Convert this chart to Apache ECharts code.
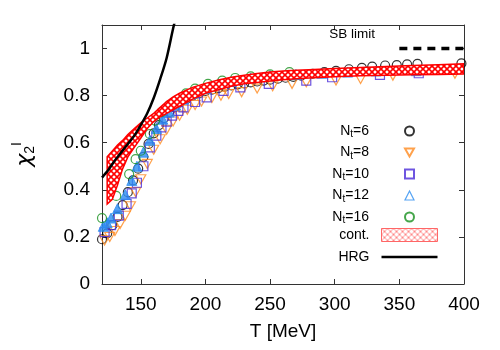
<!DOCTYPE html>
<html>
<head>
<meta charset="utf-8">
<script src="https://cdn.jsdelivr.net/npm/echarts@6/dist/echarts.min.js"></script>
<style>
  html, body { margin: 0; padding: 0; background: #fff; }
  #chart { width: 500px; height: 350px; }
</style>
</head>
<body>
<div id="chart"></div>
<script>
const xTicks = [150, 200, 250, 300, 350, 400];
const yTicks = [0, 0.2, 0.4, 0.6, 0.8, 1];

const t6 = [120,124,128,132,136,140,144,148,152,156,160,164,168,172,176,180,185,190,195,200,205,210,215,220,225,230,235,240,245,250,256,262,268,274,283,292,301,311,321,329,339,348,356,364,398];
const chi6 = [0.19,0.215,0.25,0.285,0.335,0.39,0.44,0.49,0.54,0.595,0.64,0.675,0.705,0.73,0.75,0.77,0.785,0.8,0.81,0.82,0.825,0.832,0.838,0.843,0.848,0.852,0.856,0.86,0.864,0.868,0.872,0.876,0.88,0.885,0.893,0.9,0.905,0.912,0.918,0.923,0.928,0.93,0.933,0.935,0.937];

const t8 = [122,126,130,134,138,142,146,150,155,160,165,170,175,180,186,192,197,205,212,218,228,240,252,267,278,301,320,345,393];
const chi8 = [0.185,0.2,0.225,0.255,0.29,0.33,0.39,0.445,0.51,0.57,0.615,0.655,0.69,0.715,0.74,0.76,0.775,0.79,0.8,0.807,0.815,0.83,0.84,0.85,0.857,0.864,0.871,0.885,0.893];

const t10 = [122,127,133,139,143,147,152,157,162,166,170,174,179,183,192,201,214,227,249,278,298,335,365];
const chi10 = [0.22,0.25,0.29,0.34,0.385,0.43,0.5,0.58,0.63,0.665,0.69,0.715,0.735,0.75,0.773,0.793,0.82,0.835,0.85,0.864,0.878,0.888,0.895];

const t12 = [121,124,127,132,138,143,147,152,157,162,167,172,177,183,190,200,210,220,235,250,270,290,310,332,363];
const chi12 = [0.245,0.26,0.28,0.32,0.38,0.44,0.5,0.56,0.61,0.66,0.7,0.73,0.76,0.785,0.81,0.83,0.85,0.86,0.875,0.885,0.89,0.895,0.9,0.905,0.906];

const t16 = [120,131,141,146,150,157,161,166,172,178,185,192,202,213,223,235,250,265];
const chi16 = [0.28,0.374,0.467,0.53,0.566,0.637,0.694,0.73,0.76,0.78,0.81,0.83,0.85,0.864,0.875,0.882,0.89,0.9];

// continuum band
const bandT = [124,128,132,136,140,145,150,155,160,165,170,175,180,190,200,210,220,230,240,250,260,270,280,300,320,340,360,380,400];
const bandLo = [0.34,0.36,0.42,0.49,0.54,0.58,0.62,0.66,0.69,0.71,0.725,0.74,0.755,0.785,0.81,0.825,0.84,0.85,0.856,0.862,0.867,0.872,0.875,0.88,0.884,0.887,0.889,0.89,0.892];
const bandHi = [0.54,0.565,0.59,0.61,0.635,0.66,0.685,0.705,0.725,0.75,0.775,0.795,0.81,0.835,0.852,0.866,0.878,0.887,0.894,0.9,0.905,0.908,0.91,0.915,0.92,0.924,0.928,0.931,0.935];

const hrgT = [120,125,130,135,140,145,150,155,160,165,170,175,177];
const hrgChi = [0.452,0.485,0.525,0.56,0.595,0.63,0.675,0.725,0.79,0.87,0.96,1.085,1.13];

const sbT = [350, 400];
const sbChi = [1, 1];

const zip = (a, b) => a.map((x, i) => [x, b[i]]);

function hatch(color, w) {
  const c = document.createElement('canvas');
  c.width = 6; c.height = 6;
  const g = c.getContext('2d');
  g.fillStyle = '#fff';
  g.fillRect(0, 0, 6, 6);
  g.strokeStyle = color;
  g.lineWidth = w;
  g.beginPath();
  g.moveTo(-1, -1); g.lineTo(7, 7);
  g.moveTo(7, -1); g.lineTo(-1, 7);
  g.stroke();
  return c;
}
const pattern = { image: hatch('#ff0000', 1.6), repeat: 'repeat' };
const legendPattern = { image: hatch('#ff6a6a', 0.8), repeat: 'repeat' };
const downTri = 'path://M0,0 L10,0 L5,9 Z';

function pts(name, t, v, symbol, color, opts) {
  return Object.assign({
    name: name,
    type: 'scatter',
    data: zip(t, v),
    symbol: symbol,
    symbolSize: 9,
    itemStyle: { color: 'transparent', borderColor: color, borderWidth: 1.2 },
    z: 3
  }, opts || {});
}

const chart = echarts.init(document.getElementById('chart'));

const axisLine = { lineStyle: { color: '#333', width: 1 } };
const font = 'Liberation Sans, Arial, sans-serif';

chart.setOption({
  animation: false,
  textStyle: { fontFamily: font },
  grid: { left: 102, right: 36, top: 25, bottom: 66 },
  xAxis: [{
    type: 'value', min: 120, max: 400,
    axisLine: Object.assign({ onZero: false }, axisLine),
    axisTick: { inside: true, length: 5, customValues: xTicks, lineStyle: { color: '#333' } },
    axisLabel: { customValues: xTicks, fontSize: 19, color: '#000', margin: 11 },
    splitLine: { show: false },
    name: 'T [MeV]', nameLocation: 'middle', nameGap: 38,
    nameTextStyle: { fontSize: 19, color: '#000' }
  }, {
    type: 'value', min: 120, max: 400, position: 'top',
    axisLine: Object.assign({ onZero: false }, axisLine),
    axisTick: { inside: true, length: 5, customValues: xTicks, lineStyle: { color: '#333' } },
    axisLabel: { show: false },
    splitLine: { show: false }
  }],
  yAxis: [{
    type: 'value', min: 0, max: 1.1,
    axisLine: Object.assign({ show: true, onZero: false }, axisLine),
    axisTick: { show: true, inside: true, length: 5, customValues: yTicks, lineStyle: { color: '#333' } },
    axisLabel: { customValues: yTicks, fontSize: 19, color: '#000', margin: 12 },
    splitLine: { show: false },
    name: '{c|χ}{s|2}{p|I}', nameLocation: 'middle', nameGap: 62, nameRotate: 90,
    nameTextStyle: {
      color: '#000',
      rich: {
        c: { fontSize: 22, fontFamily: 'DejaVu Sans', fontStyle: 'italic' },
        s: { fontSize: 14, padding: [10, 0, 0, 0] },
        p: { fontSize: 14, padding: [0, 0, 16, 0] }
      }
    }
  }, {
    type: 'value', min: 0, max: 1.1, position: 'right',
    axisLine: Object.assign({ show: true, onZero: false }, axisLine),
    axisTick: { show: true, inside: true, length: 5, customValues: yTicks, lineStyle: { color: '#333' } },
    axisLabel: { show: false },
    splitLine: { show: false }
  }],
  legend: [{
    orient: 'vertical', right: 85, top: 124, padding: 0,
    itemWidth: 9, itemHeight: 9, itemGap: 6,
    align: 'right',
    data: ['Nt=6', { name: 'Nt=8', icon: downTri }, 'Nt=10',
      { name: 'Nt=12', itemStyle: { color: 'rgba(255,255,255,0)', borderColor: '#2a8cf0', borderWidth: 1.2 } }, 'Nt=16'],
    formatter: n => '{a|N}{b|t}{a|' + n.slice(2) + '}',
    textStyle: {
      padding: [0, 31, 0, 0],
      rich: {
        a: { fontSize: 14, color: '#000', fontFamily: font },
        b: { fontSize: 10, color: '#000', fontFamily: font, padding: [7, 0, 0, 0] }
      }
    }
  }, {
    orient: 'vertical', right: 62, top: 228, padding: 0,
    itemWidth: 56, itemHeight: 13, itemGap: 8,
    align: 'right',
    data: [
      { name: 'cont.', icon: 'rect', itemStyle: { color: legendPattern, borderColor: '#ff6666', borderWidth: 1 } },
      { name: 'HRG', icon: 'path://M0,0 L56,0 L56,2.5 L0,2.5 Z' }
    ],
    textStyle: { fontSize: 14, color: '#000', padding: [0, 7, 0, 0] }
  }],
  series: [
    pts('Nt=6', t6, chi6, 'circle', '#000'),
    pts('Nt=8', t8, chi8, downTri, '#ff8a1e', { symbolSize: [10, 9] }),
    pts('Nt=10', t10, chi10, 'rect', '#4a2ad8', { symbolSize: 9 }),
    pts('Nt=12', t12, chi12, 'triangle', '#2a8cf0', { symbolSize: 10, itemStyle: { color: '#2a8cf0', borderColor: '#2a8cf0', borderWidth: 1 } }),
    pts('Nt=16', t16, chi16, 'circle', '#17901e'),
    {
      name: 'cont.', type: 'custom', clip: true, z: 4,
      data: bandT.map((t, i) => [t, bandLo[i], bandHi[i]]),
      encode: { x: 0, y: [1, 2] },
      itemStyle: { color: '#ff0000' },
      renderItem: (params, api) => {
        if (params.dataIndex !== 0) return;
        const top = bandT.map((t, i) => api.coord([t, bandHi[i]]));
        const bot = bandT.map((t, i) => api.coord([t, bandLo[i]])).reverse();
        return {
          type: 'polygon',
          shape: { points: top.concat(bot) },
          style: { fill: pattern, stroke: '#ff0000', lineWidth: 1.5 }
        };
      }
    },
    {
      name: 'HRG', type: 'line', data: zip(hrgT, hrgChi),
      symbol: 'none', smooth: 0.3,
      lineStyle: { color: '#000', width: 2.5 }, itemStyle: { color: '#000' }, z: 6
    },
    {
      name: 'SB', type: 'line',
      data: [
        { value: [sbT[0], sbChi[0]], label: { show: true, formatter: 'SB limit', position: [-70, -21], fontSize: 13.5, color: '#000' } },
        [sbT[1], sbChi[1]]
      ],
      symbol: 'circle', symbolSize: 0,
      lineStyle: { color: '#000', width: 3.5, type: [8, 6] }, z: 6
    }
  ]
});
</script>
</body>
</html>
